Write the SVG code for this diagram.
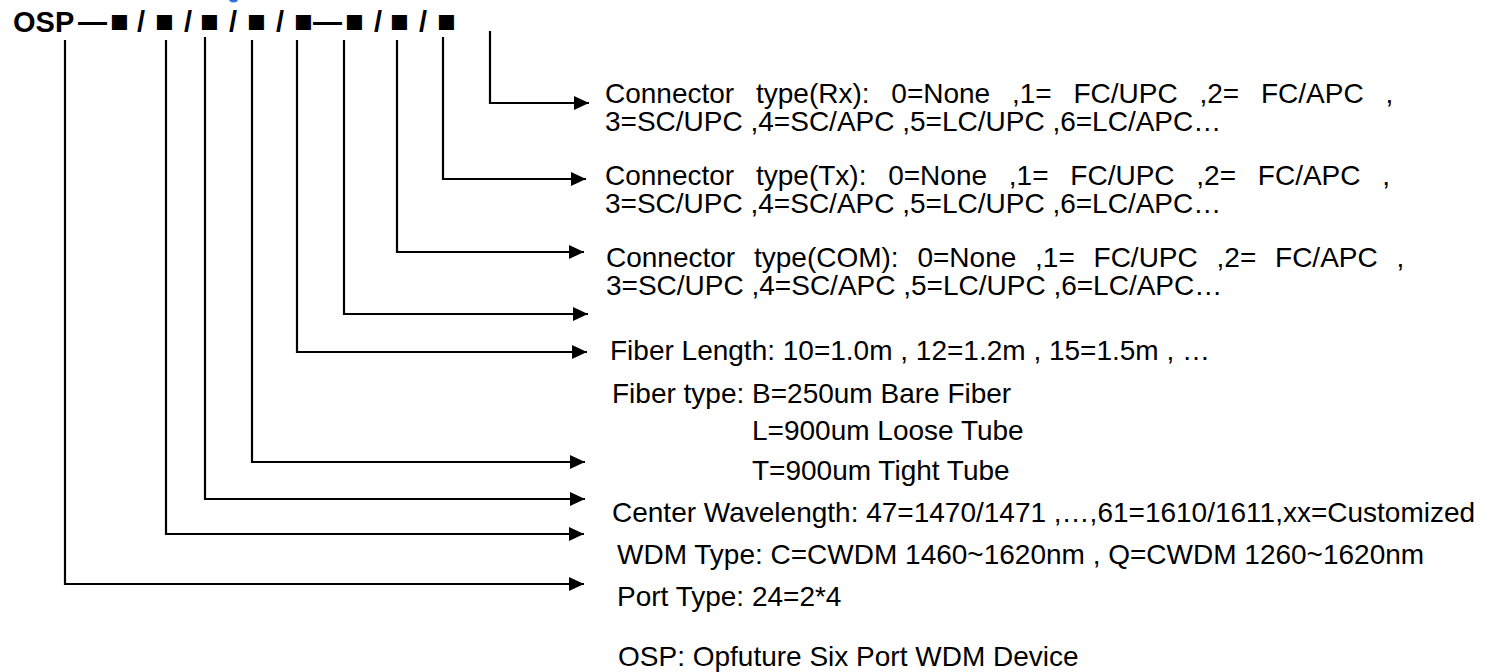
<svg xmlns="http://www.w3.org/2000/svg" width="1491" height="672" viewBox="0 0 1491 672">
<style>
.t{font-family:"Liberation Sans",Arial,sans-serif;font-size:28px;fill:#000}
.h{font-family:"Liberation Sans",Arial,sans-serif;font-size:29px;font-weight:bold;fill:#000}
.sq{font-size:31px}
.c{fill:none;stroke:#000;stroke-width:2.2;marker-end:url(#ah)}
</style>
<defs>
<marker id="ah" markerUnits="userSpaceOnUse" markerWidth="16" markerHeight="14" refX="15" refY="7" orient="auto">
<path d="M0,0 L15,7 L0,14 z" fill="#000"/>
</marker>
</defs>
<rect width="1491" height="672" fill="#fff"/>
<path d="M229,0 h9 q-1,2.5 -4.5,2.5 q-3.5,0 -4.5,-2.5z" fill="#2e75d6"/>
<g id="code">
<text class="h" y="32"><tspan x="13">OSP</tspan><tspan x="78">—</tspan><tspan class="sq" x="110">■</tspan><tspan x="137">/</tspan><tspan class="sq" x="155">■</tspan><tspan x="184">/</tspan><tspan class="sq" x="200">■</tspan><tspan x="229">/</tspan><tspan class="sq" x="247">■</tspan><tspan x="276">/</tspan><tspan class="sq" x="294">■</tspan><tspan x="313">—</tspan><tspan class="sq" x="345">■</tspan><tspan x="374">/</tspan><tspan class="sq" x="390">■</tspan><tspan x="419">/</tspan><tspan class="sq" x="437">■</tspan></text>
</g>
<g id="connectors">
<path class="c" d="M490,31 V103 H589"/>
<path class="c" d="M443,37 V179 H586"/>
<path class="c" d="M397,40 V252 H584"/>
<path class="c" d="M344,40 V314 H588"/>
<path class="c" d="M297,40 V352 H587"/>
<path class="c" d="M252,40 V462 H585"/>
<path class="c" d="M205,37 V499 H585"/>
<path class="c" d="M166,40 V534 H584"/>
<path class="c" d="M65,40 V584 H584"/>
</g>
<g id="rx">
<text class="t" x="605" y="103" word-spacing="14">Connector type(Rx): 0=None ,1= FC/UPC ,2= FC/APC ,</text>
<text class="t" x="605" y="131">3=SC/UPC ,4=SC/APC ,5=LC/UPC ,6=LC/APC…</text>
</g>
<g id="tx">
<text class="t" x="605" y="185" word-spacing="14">Connector type(Tx): 0=None ,1= FC/UPC ,2= FC/APC ,</text>
<text class="t" x="605" y="213">3=SC/UPC ,4=SC/APC ,5=LC/UPC ,6=LC/APC…</text>
</g>
<g id="com">
<text class="t" x="606" y="267" word-spacing="11">Connector type(COM): 0=None ,1= FC/UPC ,2= FC/APC ,</text>
<text class="t" x="606" y="295">3=SC/UPC ,4=SC/APC ,5=LC/UPC ,6=LC/APC…</text>
</g>
<g id="fiber-length">
<text class="t" x="610" y="360">Fiber Length: 10=1.0m , 12=1.2m , 15=1.5m , …</text>
</g>
<g id="fiber-type">
<text class="t" x="612" y="403">Fiber type: B=250um Bare Fiber</text>
<text class="t" x="752" y="440">L=900um Loose Tube</text>
<text class="t" x="752" y="480">T=900um Tight Tube</text>
</g>
<g id="center-wavelength">
<text class="t" x="612" y="522">Center Wavelength: 47=1470/1471 ,…,61=1610/1611,xx=Customized</text>
</g>
<g id="wdm-type">
<text class="t" x="617" y="564">WDM Type: C=CWDM 1460~1620nm , Q=CWDM 1260~1620nm</text>
</g>
<g id="port-type">
<text class="t" x="617" y="606">Port Type: 24=2*4</text>
</g>
<g id="osp">
<text class="t" x="618" y="666">OSP: Opfuture Six Port WDM Device</text>
</g>
</svg>
